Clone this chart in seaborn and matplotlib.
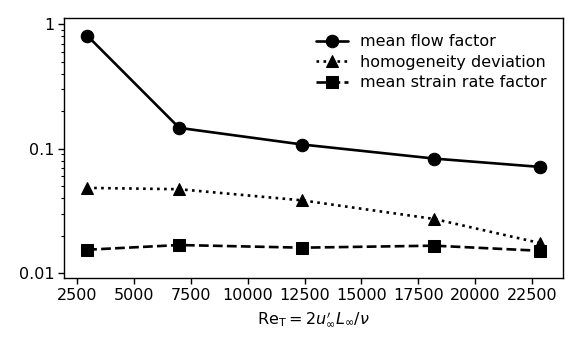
import numpy as np
import pandas as pd
import matplotlib
matplotlib.use('Agg')
import matplotlib.pyplot as plt
import seaborn as sns
from matplotlib.ticker import FuncFormatter

# データ
re_t = [2960, 7000, 12400, 18200, 22850]
mean_flow_factor = [0.811, 0.147, 0.108, 0.0832, 0.0713]
homogeneity_dev = [0.0484, 0.0472, 0.0384, 0.0272, 0.0174]
mean_strain_factor = [0.0154, 0.0168, 0.0160, 0.0166, 0.0151]

labels = ['mean flow factor', 'homogeneity deviation', 'mean strain rate factor']
markers = ['o', '^', 's']
linestyles = ['-', ':', '--']

sns.set_style('ticks')
plt.rcParams['font.family'] = ['DejaVu Sans']
plt.rcParams['font.size'] = 11.5
plt.rcParams['mathtext.fontset'] = 'dejavusans'
for k in ['text.color', 'axes.labelcolor', 'xtick.color', 'ytick.color', 'axes.edgecolor']:
    plt.rcParams[k] = 'black'

fig, ax = plt.subplots(figsize=(5.81, 3.49), dpi=100)
fig.subplots_adjust(left=0.111, right=0.969, top=0.948, bottom=0.203)

for vals, lab, m, ls in zip([mean_flow_factor, homogeneity_dev, mean_strain_factor],
                            labels, markers, linestyles):
    sns.lineplot(x=re_t, y=vals, ax=ax, color='black', marker=m, linestyle=ls,
                 linewidth=1.9, markersize=9, markeredgecolor='black', label=lab)

ax.set_yscale('log')
ax.set_ylim(0.0091, 1.12)
ax.yaxis.set_major_formatter(FuncFormatter(lambda v, p: f'{v:g}'))
ax.set_xticks([2500, 5000, 7500, 10000, 12500, 15000, 17500, 20000, 22500])
ax.set_xlabel(r'$\mathrm{Re}_\mathrm{T} = 2u^\prime_\infty L_\infty/\nu$', fontsize=11.5, labelpad=5)
ax.set_ylabel('')
ax.tick_params(direction='out', length=4, width=1, labelsize=11.5, pad=3)
ax.tick_params(which='minor', length=2.5, width=0.8)
for s in ax.spines.values():
    s.set_linewidth(1)
    s.set_color('black')

ax.legend(loc='upper right', frameon=False, fontsize=11.5, handlelength=2.0,
          labelspacing=0.35, borderaxespad=0.6)

fig.savefig('out.png', dpi=100)
